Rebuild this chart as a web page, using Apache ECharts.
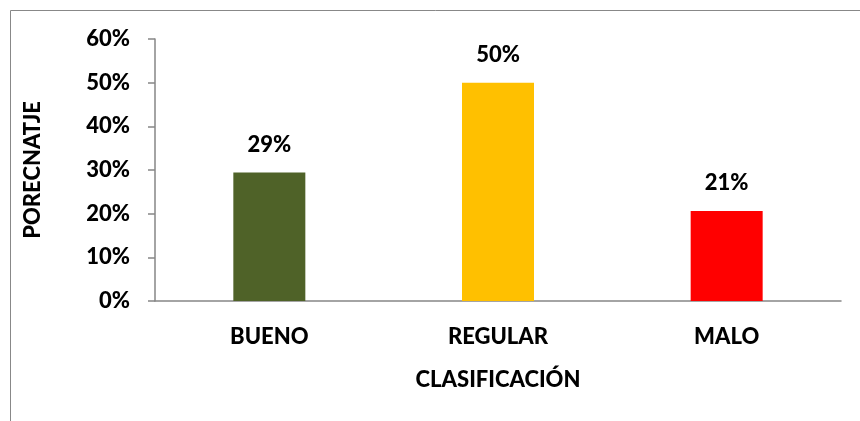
<!DOCTYPE html>
<html>
<head>
<meta charset="utf-8">
<script src="https://cdn.jsdelivr.net/npm/echarts@6/dist/echarts.min.js"></script>
<style>
html,body{margin:0;padding:0;background:#fff;}
#chart{width:860px;height:421px;}
</style>
</head>
<body>
<div id="chart"></div>
<script>
const categories = ['BUENO', 'REGULAR', 'MALO'];
const values = [0.294, 0.50, 0.206];
const barColors = ['#4F6228', '#FFC000', '#FF0000'];
const yTicks = [0, 0.1, 0.2, 0.3, 0.4, 0.5, 0.6];

const FONT = 'Lato';
const FS = 22;
const FW = 900;
const chart = echarts.init(document.getElementById('chart'), null, {renderer: 'canvas'});
chart.setOption({
  animation: false,
  backgroundColor: '#fff',
  graphic: [{
    type: 'rect',
    shape: {x: 10.5, y: 10.5, width: 900, height: 500},
    style: {fill: 'none', stroke: '#888', lineWidth: 1},
    silent: true
  }],
  grid: {left: 155, right: 19, top: 39, bottom: 120, containLabel: false},
  xAxis: {
    type: 'category',
    data: categories,
    name: 'CLASIFICACIÓN',
    nameLocation: 'middle',
    nameGap: 68,
    nameTextStyle: {fontFamily: FONT, fontWeight: FW, fontSize: FS, color: '#000'},
    axisLine: {lineStyle: {color: '#868686', width: 1.5}},
    axisTick: {show: false},
    axisLabel: {fontFamily: FONT, fontWeight: FW, fontSize: FS, color: '#000', margin: 25}
  },
  yAxis: {
    type: 'value',
    min: yTicks[0],
    max: yTicks[yTicks.length - 1],
    interval: 0.1,
    name: 'PORECNATJE',
    nameLocation: 'middle',
    nameGap: 111,
    nameRotate: 90,
    nameTextStyle: {fontFamily: FONT, fontWeight: FW, fontSize: FS, color: '#000'},
    axisLine: {show: true, lineStyle: {color: '#868686', width: 1.5}},
    axisTick: {show: true, length: 7, lineStyle: {color: '#868686', width: 1.5}},
    splitLine: {show: false},
    axisLabel: {
      fontFamily: FONT, fontWeight: FW, fontSize: FS, color: '#000', margin: 25,
      formatter: v => Math.round(v * 100) + '%'
    }
  },
  series: [{
    type: 'bar',
    barWidth: 72,
    data: values.map((v, i) => ({value: v, itemStyle: {color: barColors[i]}})),
    label: {
      show: true,
      position: 'top',
      distance: 17,
      fontFamily: FONT, fontWeight: FW, fontSize: FS, color: '#000',
      formatter: p => Math.round(p.value * 100) + '%'
    }
  }]
});
</script>
</body>
</html>
